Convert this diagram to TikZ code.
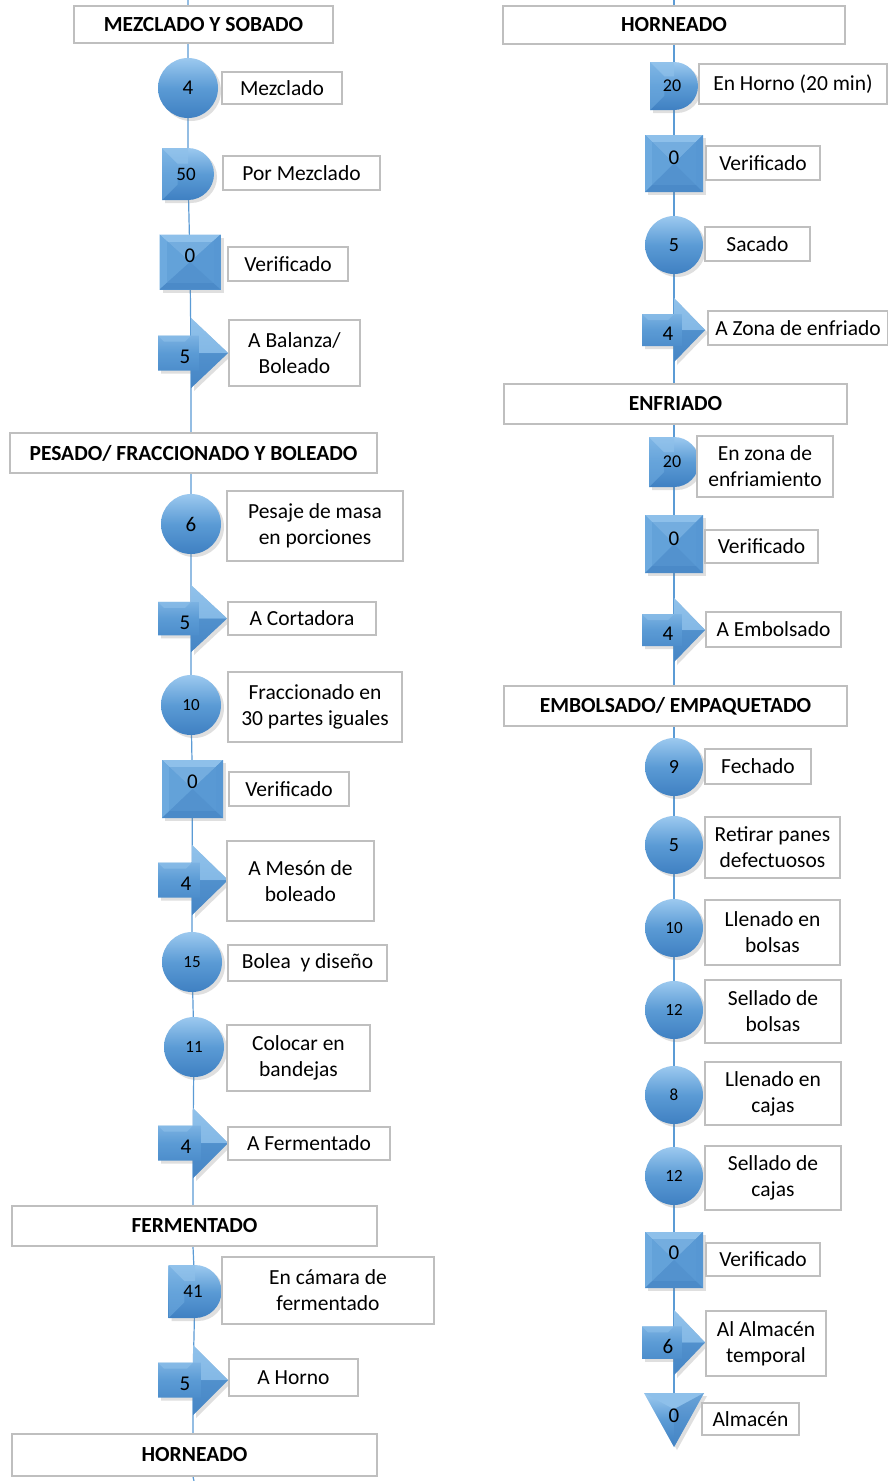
\documentclass[tikz,border=0pt]{standalone}
\usepackage{fontspec}
\setmainfont{Carlito}
\usetikzlibrary{shadows}
\definecolor{symA}{HTML}{9CC9EF}
\definecolor{symB}{HTML}{5B9BD5}
\definecolor{symC}{HTML}{3F80C2}
\definecolor{sqT}{HTML}{8EC0EA}
\definecolor{sqL}{HTML}{6DAADF}
\definecolor{sqR}{HTML}{5797D3}
\definecolor{sqB}{HTML}{4B8AC8}
\definecolor{spine}{HTML}{5B9BD5}
\definecolor{boxline}{HTML}{BFBFBF}
\pgfdeclarelayer{back}
\pgfdeclarelayer{bg}
\pgfsetlayers{back,bg,main}
\tikzset{
  shad/.style={drop shadow={opacity=0.25,shadow xshift=3pt,shadow yshift=-3pt}},
  symshade/.style={top color=symA,bottom color=symC,middle color=symB,shad},
  circsym/.style={circle,inner sep=0pt,top color=symA,bottom color=symC,middle color=symB,shad},
  numtxt/.style={inner sep=0pt,text=black},
  spinenode/.style={inner sep=0pt,minimum size=0pt},
  lbl/.style={draw=boxline,line width=1.3pt,fill=white,align=center,inner sep=2pt,
    font=\fontsize{21.5}{26}\selectfont},
  hdr/.style={draw=boxline,line width=1.3pt,fill=white,align=center,inner sep=2pt,
    font=\fontsize{21.5}{24}\selectfont\bfseries},
  conn/.style={draw=spine,line width=1.2pt}
}
% circle: name, x, y, r, num, fontsize
\newcommand\symCirc[6]{%
  \node[circsym,minimum size=2*#4,font=\fontsize{#6}{#6}\selectfont] (#1) at (#2,#3) {#5};}
% delay: name, sx, cy, h, num, fontsize
\newcommand\symDly[6]{%
  \path[symshade] (#2-#4/2,#3-#4/2) -- (#2,#3-#4/2) arc(-90:90:#4/2) -- (#2-#4/2,#3+#4/2) -- cycle;
  \fill[sqL,opacity=0.6] (#2-#4/2,#3-#4/2) -- (#2-#4/2+#4*0.3,#3-#4/2+#4*0.3) -- (#2-#4/2+#4*0.3,#3+#4/2-#4*0.3) -- (#2-#4/2,#3+#4/2) -- cycle;
  \fill[sqT,opacity=0.7] (#2-#4/2,#3-#4/2) -- (#2,#3-#4/2) -- (#2,#3-#4/2+#4*0.3) -- (#2-#4/2+#4*0.3,#3-#4/2+#4*0.3) -- cycle;
  \node[spinenode] (#1) at (#2,#3) {};
  \node[numtxt,font=\fontsize{#6}{#6}\selectfont] at (#2-2,#3) {#5};}
% square: name, sx, cy, w, h, num, numdy
\newcommand\symSq[7]{%
  \path[fill=symB,shad] (#2-#4/2,#3-#5/2) rectangle (#2+#4/2,#3+#5/2);
  \fill[sqT] (#2-#4/2,#3-#5/2) -- (#2+#4/2,#3-#5/2) -- (#2,#3) -- cycle;
  \fill[sqL] (#2-#4/2,#3-#5/2) -- (#2-#4/2,#3+#5/2) -- (#2,#3) -- cycle;
  \fill[sqR] (#2+#4/2,#3-#5/2) -- (#2+#4/2,#3+#5/2) -- (#2,#3) -- cycle;
  \fill[sqB] (#2-#4/2,#3+#5/2) -- (#2+#4/2,#3+#5/2) -- (#2,#3) -- cycle;
  \fill[symB,opacity=0.5] (#2-#4/2+7,#3-#5/2+7) rectangle (#2+#4/2-7,#3+#5/2-7);
  \node[spinenode] (#1) at (#2,#3) {};
  \node[numtxt,font=\fontsize{21}{21}\selectfont] at (#2,#3+#7) {#6};}
% arrow: name, sx, cy, h, left, tip, num, numx
\newcommand\symArr[8]{%
  \path[symshade] (#2,#3-#4/2) -- (#6,#3) -- (#2,#3+#4/2) -- (#2,#3+#4/4) -- (#5,#3+#4/4) -- (#5,#3-#4/4) -- (#2,#3-#4/4) -- cycle;
  \fill[sqT,opacity=0.8] (#2,#3-#4/2) -- (#6,#3) -- (#2+8,#3) -- (#2+8,#3-#4/4) -- (#2,#3-#4/4) -- cycle;
  \fill[sqT,opacity=0.6] (#5,#3-#4/4) -- (#2,#3-#4/4) -- (#2-6,#3-#4/4+6) -- (#5+6,#3-#4/4+6) -- cycle;
  \fill[sqB,opacity=0.6] (#2,#3+#4/2) -- (#6,#3) -- (#2+8,#3) -- (#2+8,#3+#4/4) -- (#2,#3+#4/4) -- cycle;
  \node[spinenode] (#1) at (#2,#3) {};
  \node[numtxt,font=\fontsize{21}{21}\selectfont] at (#8,#3+4) {#7};}
% triangle: name, sx, top, w, h, num
\newcommand\symTri[6]{%
  \path[symshade] (#2-#4/2,#3) -- (#2+#4/2,#3) -- (#2,#3+#5) -- cycle;
  \fill[sqT] (#2-#4/2,#3) -- (#2+#4/2,#3) -- (#2,#3+#5*0.3) -- cycle;
  \fill[sqB,opacity=0.6] (#2+#4/2,#3) -- (#2,#3+#5) -- (#2,#3+#5*0.3) -- cycle;
  \node[spinenode] (#1) at (#2,#3+#5/3) {};
  \node[numtxt,font=\fontsize{21}{21}\selectfont] at (#2,#3+23) {#6};}
\begin{document}
\begin{tikzpicture}[x=1pt,y=-1pt]
\begin{pgfonlayer}{back}
\fill[white] (0,0) rectangle (888,1481);
\end{pgfonlayer}
\useasboundingbox (0,0) rectangle (888,1481);
\coordinate (Ltop) at (188,0);
\coordinate (Lbot) at (194,1481);
\coordinate (Rtop) at (674,0);
% ===== LEFT COLUMN =====
\node[hdr,minimum width=259,minimum height=37] (H1) at (203.5,24.5) {MEZCLADO Y SOBADO};
\symCirc{c1}{188}{88}{30}{4}{21}
\node[lbl,minimum width=120,minimum height=32] (L1) at (282,88) {Mezclado};
\symDly{d1}{188}{174}{52}{50}{19}
\node[lbl,minimum width=157,minimum height=34] (L2) at (301.5,173) {Por Mezclado};
\symSq{s1}{190}{262}{61}{55}{0}{-6}
\node[lbl,minimum width=120,minimum height=34] (L3) at (288,264) {Verificado};
\symArr{a1}{191}{353}{70}{158}{228}{5}{185}
\node[lbl,minimum width=131,minimum height=66] (L4) at (294.5,353) {A Balanza/\\Boleado};
\node[hdr,minimum width=367,minimum height=40] (H2) at (193.5,453) {PESADO/ FRACCIONADO Y BOLEADO};
\symCirc{c2}{191}{524}{30}{6}{21}
\node[lbl,minimum width=176,minimum height=70] (L5) at (315,526) {Pesaje de masa\\en porciones};
\symArr{a2}{191}{618.5}{67}{158}{227}{5}{185}
\node[lbl,minimum width=148,minimum height=33] (L6) at (302,618.5) {A Cortadora};
\symCirc{c3}{191}{705}{30}{10}{17}
\node[lbl,minimum width=174,minimum height=70] (L7) at (315,707) {Fraccionado en\\30 partes iguales};
\symSq{s2}{192.5}{789}{61}{58}{0}{-7}
\node[lbl,minimum width=120,minimum height=34] (L8) at (289,789) {Verificado};
\symArr{a3}{192}{880}{70}{158}{228}{4}{186}
\node[lbl,minimum width=147,minimum height=80] (L9) at (300.5,881) {A Mesón de\\boleado};
\symCirc{c4}{192}{962}{30}{15}{17}
\node[lbl,minimum width=159,minimum height=36] (L10) at (307.5,963) {Bolea~ y diseño};
\symCirc{c5}{194}{1047}{30}{11}{17}
\node[lbl,minimum width=143,minimum height=66] (L11) at (298.5,1058) {Colocar en\\bandejas};
\symArr{a4}{193}{1143}{70}{158}{228}{4}{186}
\node[lbl,minimum width=162,minimum height=33] (L12) at (309,1143.5) {A Fermentado};
\node[hdr,minimum width=365,minimum height=40] (H3) at (194.5,1226) {FERMENTADO};
\symDly{d2}{195}{1291.5}{53}{41}{19}
\node[lbl,minimum width=212,minimum height=67] (L13) at (328,1290.5) {En cámara de\\fermentado};
\symArr{a5}{193}{1380}{70}{158}{228}{5}{185}
\node[lbl,minimum width=129,minimum height=37] (L14) at (293.5,1377.5) {A Horno};
\node[hdr,minimum width=365,minimum height=42] (H4) at (194.5,1455) {HORNEADO};
% ===== RIGHT COLUMN =====
\node[hdr,minimum width=342,minimum height=38] (H5) at (674,25) {HORNEADO};
\symDly{d3}{674}{86}{48}{20}{18}
\node[lbl,minimum width=188,minimum height=40] (L15) at (793,84) {En Horno (20 min)};
\symSq{s3}{674}{163.5}{58}{57}{0}{-6}
\node[lbl,minimum width=114,minimum height=34] (L16) at (763,163) {Verificado};
\symCirc{c6}{674}{245}{29}{5}{20}
\node[lbl,minimum width=105,minimum height=34] (L17) at (757.5,244) {Sacado};
\symArr{a6}{674}{330}{64}{642}{705}{4}{668}
\node[lbl,minimum width=180,minimum height=34] (L18) at (798,328) {A Zona de enfriado};
\node[hdr,minimum width=343,minimum height=40] (H6) at (675.5,404) {ENFRIADO};
\symDly{d4}{674}{462}{50}{20}{18}
\node[lbl,minimum width=136,minimum height=61] (L19) at (765,466.5) {En zona de\\enfriamiento};
\symSq{s4}{674}{544}{58}{58}{0}{-5}
\node[lbl,minimum width=113,minimum height=33] (L20) at (761.5,546.5) {Verificado};
\symArr{a7}{674}{630}{64}{642}{705}{4}{668}
\node[lbl,minimum width=135,minimum height=35] (L21) at (773.5,629.5) {A Embolsado};
\node[hdr,minimum width=343,minimum height=40] (H7) at (675.5,706) {EMBOLSADO/ EMPAQUETADO};
\symCirc{c7}{674}{767}{29}{9}{20}
\node[lbl,minimum width=106,minimum height=35] (L22) at (758,766.5) {Fechado};
\symCirc{c8}{674}{845}{29}{5}{20}
\node[lbl,minimum width=135,minimum height=61] (L23) at (772.5,847.5) {Retirar panes\\defectuosos};
\symCirc{c9}{674}{928}{29}{10}{17}
\node[lbl,minimum width=135,minimum height=65] (L24) at (772.5,932.5) {Llenado en\\bolsas};
\symCirc{c10}{674}{1010}{29}{12}{17}
\node[lbl,minimum width=136,minimum height=63] (L25) at (773,1011.5) {Sellado de\\bolsas};
\symCirc{c11}{674}{1095}{29}{8}{17}
\node[lbl,minimum width=136,minimum height=63] (L26) at (773,1093.5) {Llenado en\\cajas};
\symCirc{c12}{674}{1176}{29}{12}{17}
\node[lbl,minimum width=136,minimum height=64] (L27) at (773,1178) {Sellado de\\cajas};
\symSq{s5}{674}{1260}{58}{56}{0}{-7}
\node[lbl,minimum width=114,minimum height=33] (L28) at (763,1259.5) {Verificado};
\symArr{a8}{674}{1342.5}{65}{642}{705}{6}{668}
\node[lbl,minimum width=120,minimum height=65] (L29) at (766,1343.5) {Al Almacén\\temporal};
\symTri{t1}{674}{1393}{60}{54}{0}
\node[lbl,minimum width=97,minimum height=32] (L30) at (750.5,1419) {Almacén};
% ===== CONNECTORS =====
\begin{pgfonlayer}{bg}
\draw[conn] (Ltop) -- (Ltop |- H1.south) -- (c1) -- (d1) -- (s1) -- (a1) -- (a1 |- H2.north);
\draw[conn] (a1 |- H2.south) -- (c2) -- (a2) -- (c3) -- (s2) -- (a3) -- (c4) -- (c5) -- (a4) -- (a4 |- H3.north);
\draw[conn] (a4 |- H3.south) -- (d2) -- (a5) -- (a5 |- H4.north);
\draw[conn] (a5 |- H4.south) -- (Lbot);
\draw[conn] (Rtop) -- (d3) -- (s3) -- (c6) -- (a6) -- (a6 |- H6.north);
\draw[conn] (a6 |- H6.south) -- (d4) -- (s4) -- (a7) -- (a7 |- H7.north);
\draw[conn] (a7 |- H7.south) -- (c7) -- (c8) -- (c9) -- (c10) -- (c11) -- (c12) -- (s5) -- (a8) -- (t1);
\end{pgfonlayer}
\end{tikzpicture}
\end{document}
